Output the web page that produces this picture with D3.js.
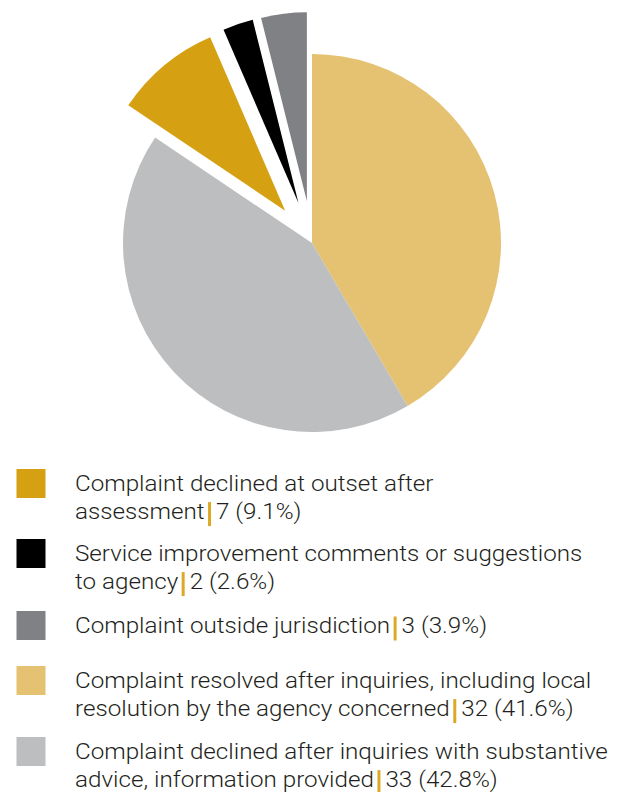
<!DOCTYPE html>
<html>
<head>
<meta charset="utf-8">
<script src="https://cdn.jsdelivr.net/npm/d3@7/dist/d3.min.js"></script>
<style>
  html, body { margin: 0; padding: 0; background: #fff; }
  svg { display: block; }
</style>
</head>
<body>
<svg id="chart" width="622" height="792"></svg>
<script>
// ---- Data (legend order) ----
const categories = [
  "Complaint declined at outset after assessment",
  "Service improvement comments or suggestions to agency",
  "Complaint outside jurisdiction",
  "Complaint resolved after inquiries, including local resolution by the agency concerned",
  "Complaint declined after inquiries with substantive advice, information provided"
];
const values = [7, 2, 3, 32, 33];
const percentLabels = ["9.1%", "2.6%", "3.9%", "41.6%", "42.8%"];
// legend text split into lines (the last line receives the "| n (p%)" suffix)
const legendLines = [
  ["Complaint declined at outset after", "assessment"],
  ["Service improvement comments or suggestions", "to agency"],
  ["Complaint outside jurisdiction"],
  ["Complaint resolved after inquiries, including local", "resolution by the agency concerned"],
  ["Complaint declined after inquiries with substantive", "advice, information provided"]
];
const explodedCategories = [categories[0], categories[1], categories[2]];

// ---- Styles ----
const palette = ["#D5A012", "#000000", "#808184", "#E5C172", "#BDBEC0"];
const accent = "#DDA826";
const textColor = "#231F20";

const svg = d3.select("#chart");
const cx = 312, cy = 243, R = 189, explode = 42;

const total = d3.sum(values);
const leadSum = d3.sum(values.slice(0, 3));
const start = -2 * Math.PI * leadSum / total;

const pie = d3.pie().sort(null).value(d => d.value)
  .startAngle(start).endAngle(start + 2 * Math.PI);
const arc = d3.arc().innerRadius(0).outerRadius(R);

const data = categories.map((c, i) => ({ cat: c, value: values[i], color: palette[i] }));
const arcs = pie(data);

const g = svg.append("g").attr("transform", `translate(${cx},${cy})`);
g.selectAll("path").data(arcs).join("path")
  .attr("d", arc)
  .attr("fill", d => d.data.color)
  .attr("transform", d => {
    if (!explodedCategories.includes(d.data.cat)) return null;
    const mid = (d.startAngle + d.endAngle) / 2;
    return `translate(${explode * Math.sin(mid)},${-explode * Math.cos(mid)})`;
  });

// ---- Legend ----
const fontFamily = "Roboto, 'Liberation Sans', Arial, sans-serif";
const fontSize = 22;
const stretch = 1.1;
const lineH = 27.6;
const entryTops = [469, 539, 611, 666, 737];
const textX = 75;

function addText(parent, x, y, str) {
  return parent.append("text")
    .attr("transform", `translate(${x},${y}) scale(${stretch},1)`)
    .attr("font-family", fontFamily).attr("font-weight", 300)
    .attr("font-size", fontSize).attr("fill", textColor)
    .text(str);
}

const legend = svg.append("g");
legendLines.forEach((lines, i) => {
  const top = entryTops[i];
  legend.append("rect")
    .attr("x", 16.5).attr("y", top).attr("width", 29).attr("height", 29)
    .attr("fill", palette[i]);
  lines.forEach((ln, j) => {
    const baseline = top + 22 + j * lineH;
    const t = addText(legend, textX, baseline, ln);
    if (j === lines.length - 1) {
      const w = t.node().getComputedTextLength() * stretch;
      const bx = textX + w + 3.5;
      legend.append("rect")
        .attr("x", bx).attr("y", baseline - 16.5).attr("width", 3).attr("height", 24)
        .attr("fill", accent);
      addText(legend, bx + 8, baseline, `${values[i]} (${percentLabels[i]})`);
    }
  });
});
</script>
</body>
</html>
